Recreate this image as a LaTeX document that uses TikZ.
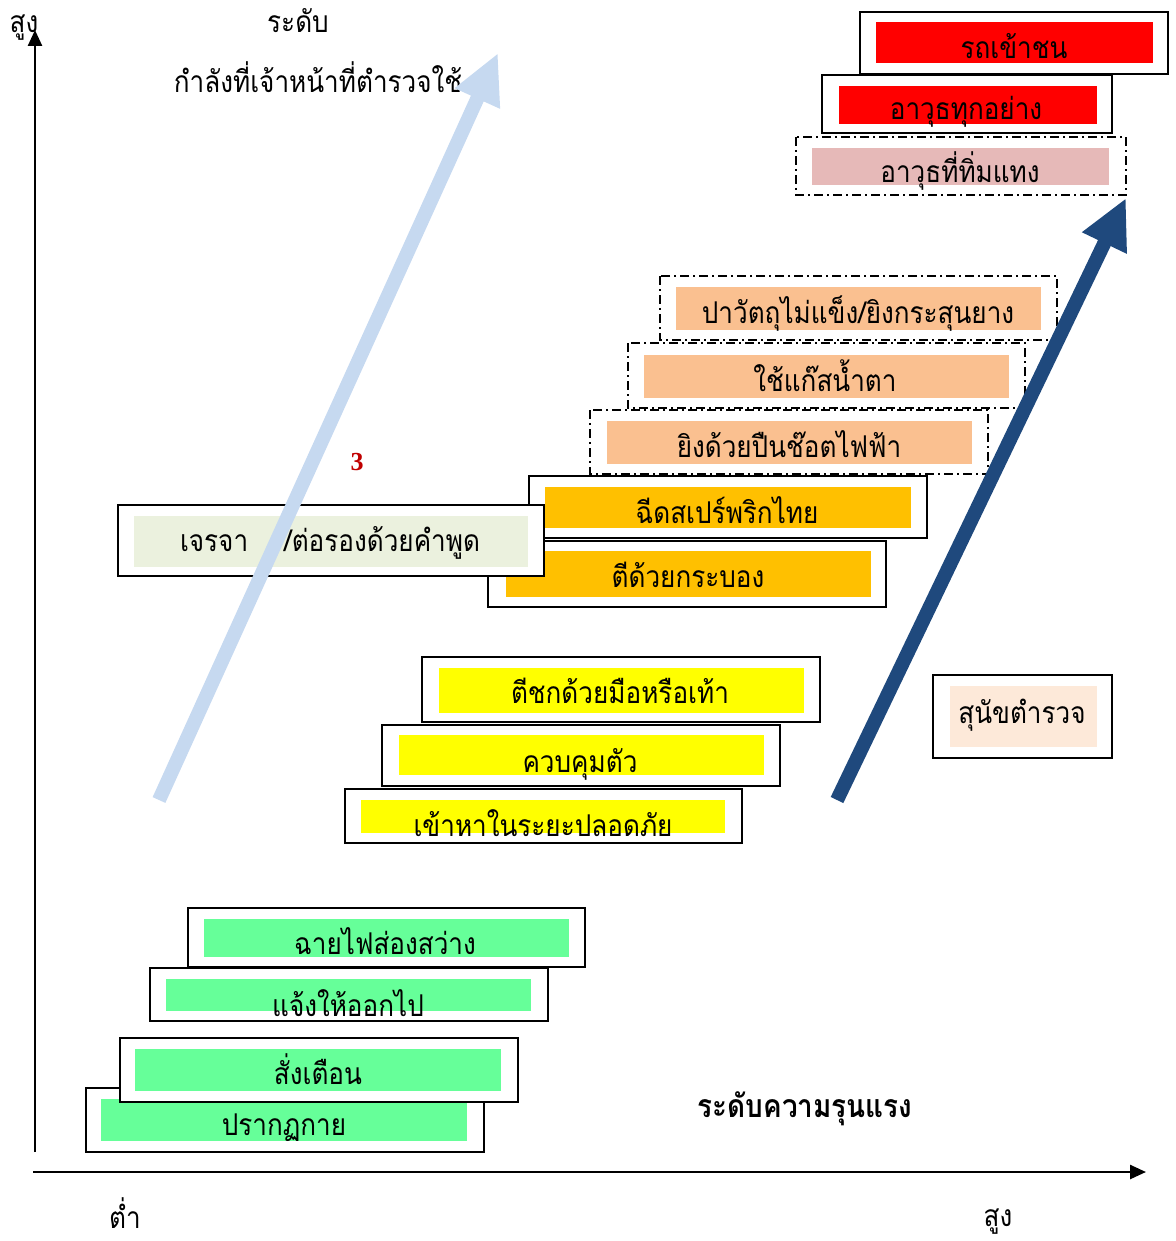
\documentclass[tikz,border=0pt]{standalone}
\usepackage{fontspec}
\usetikzlibrary{arrows.meta}
\setmainfont{Liberation Serif}
\newfontfamily\thai[Script=Thai,FakeStretch=0.87]{Loma}
\definecolor{redfill}{HTML}{FF0000}
\definecolor{pinkfill}{HTML}{E6B9B8}
\definecolor{peachfill}{HTML}{FAC090}
\definecolor{amberfill}{HTML}{FFC000}
\definecolor{yellowfill}{HTML}{FFFF00}
\definecolor{greenfill}{HTML}{66FF99}
\definecolor{palegreen}{HTML}{EBF1DE}
\definecolor{palepeach}{HTML}{FDE9D9}
\definecolor{lightarrow}{HTML}{C6D9F0}
\definecolor{darkarrow}{HTML}{1F497D}
\definecolor{numred}{HTML}{C00000}
\begin{document}
\begin{tikzpicture}[x=1pt,y=-1pt,
  solidbox/.style={draw=black,line width=2pt,fill=white},
  dashbox/.style={draw=black,line width=1.6pt,dash pattern=on 9pt off 4pt on 2pt off 4pt,fill=white},
  lbl/.style={font=\thai\fontsize{30}{36}\selectfont,inner sep=0pt,anchor=base},
  axislbl/.style={font=\thai\fontsize{30}{36}\selectfont,inner sep=0pt,anchor=base},
  axis/.style={line width=2.5pt,-{Triangle[length=16pt,width=14pt]}},
  bigarrow/.style={line width=14pt,-{Triangle[length=50pt,width=46pt]}}]
\useasboundingbox (0,0) rectangle (1175,1241);

% axes
\coordinate (yb) at (35,1152);
\coordinate (yt) at (35,30);
\coordinate (xl) at (33,1172);
\coordinate (xr) at (1146,1172);
\draw[axis] (yb) -- (yt);
\draw[axis] (xl) -- (xr);

% axis labels
\node[axislbl] (hiY) at (24,33) {สูง};
\node[axislbl] (lvl) at (298,33) {ระดับ};
\node[axislbl] (force) at (318,93) {กำลังที่เจ้าหน้าที่ตำรวจใช้};
\node[axislbl] (low) at (125,1228) {ต่ำ};
\node[axislbl] (hiX) at (998,1226) {สูง};
\node[axislbl,font=\thai\bfseries\fontsize{32}{38}\selectfont] (sev) at (805,1117) {ระดับความรุนแรง};

% green group
\draw[solidbox] (86,1088) rectangle (484,1152);
\fill[greenfill] (101,1099) rectangle (467,1141);
\node[lbl] (t16) at (284,1135) {ปรากฏกาย};
\draw[solidbox] (120,1038) rectangle (518,1102);
\fill[greenfill] (135,1049) rectangle (501,1091);
\node[lbl] (t15) at (318,1084) {สั่งเตือน};
\draw[solidbox] (150,968) rectangle (548,1021);
\fill[greenfill] (166,979) rectangle (531,1011);
\node[lbl] (t14) at (348,1016) {แจ้งให้ออกไป};
\draw[solidbox] (188,908) rectangle (585,967);
\fill[greenfill] (204,919) rectangle (569,957);
\node[lbl] (t13) at (385,954) {ฉายไฟส่องสว่าง};

% yellow group
\draw[solidbox] (345,789) rectangle (742,843);
\fill[yellowfill] (361,800) rectangle (725,833);
\node[lbl] (t12) at (543,836) {เข้าหาในระยะปลอดภัย};
\draw[solidbox] (382,725) rectangle (780,786);
\fill[yellowfill] (399,735) rectangle (764,775);
\node[lbl] (t11) at (580,772) {ควบคุมตัว};
\draw[solidbox] (422,657) rectangle (820,722);
\fill[yellowfill] (439,668) rectangle (804,713);
\node[lbl] (t10) at (620,703) {ตีชกด้วยมือหรือเท้า};

% amber group
\draw[solidbox] (488,541) rectangle (886,607);
\fill[amberfill] (506,551) rectangle (871,597);
\node[lbl] (t8) at (688,587) {ตีด้วยกระบอง};
\draw[solidbox] (529,476) rectangle (927,538);
\fill[amberfill] (545,487) rectangle (911,528);
\node[lbl] (t7) at (727,523) {ฉีดสเปร์พริกไทย};

% negotiation
\draw[solidbox] (118,505) rectangle (544,576);
\fill[palegreen] (134,516) rectangle (528,567);
\node[lbl] (t9) at (330,551) {เจรจา\hspace{36pt}/ต่อรองด้วยคำพูด};

% peach group
\draw[dashbox] (590,410) rectangle (988,474);
\fill[peachfill] (607,421) rectangle (972,464);
\node[lbl] (t6) at (789,457) {ยิงด้วยปืนช๊อตไฟฟ้า};
\draw[dashbox] (628,343) rectangle (1025,408);
\fill[peachfill] (644,355) rectangle (1009,398);
\node[lbl] (t5) at (825,391) {ใช้แก๊สน้ำตา};
\draw[dashbox] (660,276) rectangle (1057,340);
\fill[peachfill] (676,287) rectangle (1041,330);
\node[lbl] (t4) at (858,323) {ปาวัตถุไม่แข็ง/ยิงกระสุนยาง};

% red group
\draw[dashbox] (796,137) rectangle (1126,195);
\fill[pinkfill] (812,148) rectangle (1109,185);
\node[lbl] (t3) at (960,183) {อาวุธที่ทิ่มแทง};
\draw[solidbox] (822,75) rectangle (1112,133);
\fill[redfill] (839,86) rectangle (1097,124);
\node[lbl] (t2) at (966,120) {อาวุธทุกอย่าง};
\draw[solidbox] (860,12) rectangle (1168,74);
\fill[redfill] (876,22) rectangle (1153,63);
\node[lbl] (t1) at (1014,59) {รถเข้าชน};

% police dog
\draw[solidbox] (933,675) rectangle (1112,758);
\fill[palepeach] (950,686) rectangle (1097,747);
\node[lbl] (t17) at (1022,723) {สุนัขตำรวจ};

% number
\node[font=\bfseries\fontsize{26}{30}\selectfont,text=numred,inner sep=0pt] (num) at (357,462) {3};

% big arrows
\coordinate (la1) at (159,800);
\coordinate (la2) at (498,53);
\draw[bigarrow,draw=lightarrow,fill=lightarrow] (la1) -- (la2);
\coordinate (da1) at (837,800);
\coordinate (da2) at (1126,198);
\draw[bigarrow,draw=darkarrow,fill=darkarrow] (da1) -- (da2);
\end{tikzpicture}
\end{document}
